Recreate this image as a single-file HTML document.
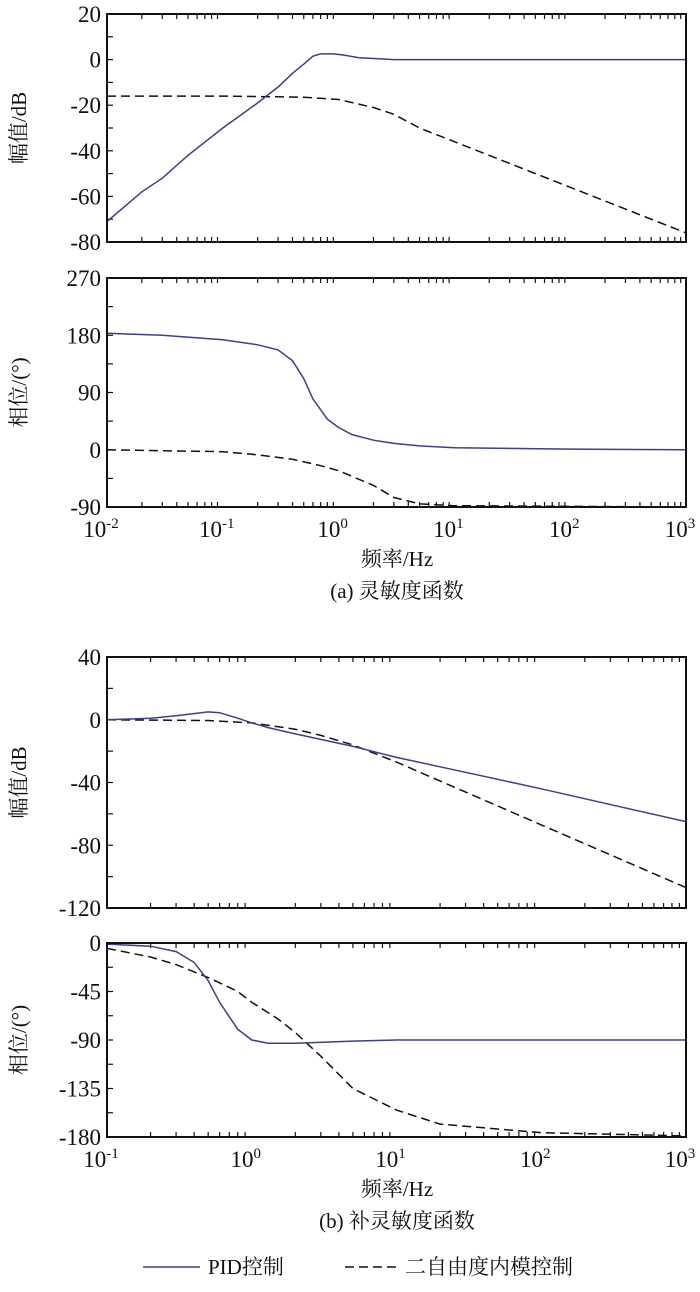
<!DOCTYPE html>
<html><head><meta charset="utf-8"><style>
body{margin:0;background:#fff}
svg text{font-family:"Liberation Serif","Noto Serif CJK SC",serif;fill:#111}
</style></head><body>
<svg id="s" width="700" height="1287" xmlns="http://www.w3.org/2000/svg"></svg>
<script>
// Panel (a) magnitude
const aFreq=[0.01,0.02,0.03,0.05,0.1,0.2,0.3,0.4,0.5,0.6,0.7,0.9,1.1,1.5,2,3,10,100,1000];
const aPidMag=[-71,-58,-52,-42,-30,-19,-12,-6,-2,1.5,2.5,2.5,2,0.8,0.5,0,0,0,0];
const aImcFreq=[0.01,0.1,0.5,1,2,3,5,10,100,1000];
const aImcMag=[-16,-16,-16.5,-17.5,-21,-24,-30,-36,-56,-76];
const aPhFreq=[0.01,0.03,0.1,0.2,0.3,0.4,0.5,0.6,0.8,1,1.3,2,3,5,10,100,1000];
const aPidPh=[183,180,173,165,157,140,112,80,48,35,24,15,10,6,3,1,0];
const aImcPhFreq=[0.01,0.1,0.2,0.4,0.7,1,2,3,5,10,1000];
const aImcPh=[0,-3,-8,-15,-25,-33,-56,-75,-85,-88,-90];
// Panel (b)
const bFreq=[0.1,0.2,0.3,0.5,0.6,0.8,1,1.3,2,5,10,20,100,1000];
const bPidMag=[0,1,2.5,5,4.5,1,-2,-5,-9,-17,-24,-30,-44,-65];
const bImcFreq=[0.1,0.5,1,2,3,5,10,100,1000];
const bImcMag=[0,-0.5,-2,-6,-10,-16,-27,-67,-107];
const bPhFreq=[0.1,0.2,0.3,0.4,0.5,0.6,0.8,1,1.3,2,5,10,1000];
const bPidPh=[-1,-3,-8,-18,-35,-55,-80,-90,-93,-93,-91,-90,-90];
const bImcPhFreq=[0.1,0.2,0.3,0.5,0.8,1,1.5,2,3,5,10,20,100,1000];
const bImcPh=[-5,-13,-20,-32,-45,-55,-70,-83,-105,-135,-155,-168,-176,-179];
const yTicksAMag=[20,0,-20,-40,-60,-80];
const yTicksAPh=[270,180,90,0,-90];
const yTicksBMag=[40,0,-40,-80,-120];
const yTicksBPh=[0,-45,-90,-135,-180];

const NS="http://www.w3.org/2000/svg",S=document.getElementById('s');
function el(t,a,p){const e=document.createElementNS(NS,t);for(const k in a)e.setAttribute(k,a[k]);(p||S).appendChild(e);return e;}
function panel(name,top,bot,d0,d1,ymax,ymin,ticks,xlabels,ytitle,series){
  const L=107,R=686;
  const g=el('g',{});
  
  
  const X=f=>L+(Math.log10(f)-d0)/(d1-d0)*(R-L);
  const Y=v=>top+(ymax-v)/(ymax-ymin)*(bot-top);
  for(let d=d0;d<d1;d++)for(let m=2;m<10;m++){const x=X(m*Math.pow(10,d));el('line',{x1:x,x2:x,y1:bot,y2:bot-5,stroke:'#111','stroke-width':1.2},g);el('line',{x1:x,x2:x,y1:top,y2:top+5,stroke:'#111','stroke-width':1.2},g);}
  for(let i=0;i<ticks.length;i++){const y=Y(ticks[i]);
    const t=el('text',{x:L-6,y:y+8,'text-anchor':'end','font-size':23},g);t.textContent=ticks[i];
    
    el('line',{x1:L,x2:L+6,y1:y,y2:y,stroke:'#111','stroke-width':1.2},g);
    if(i<ticks.length-1){const ym=(y+Y(ticks[i+1]))/2;el('line',{x1:L,x2:L+6,y1:ym,y2:ym,stroke:'#111','stroke-width':1.2},g);}
  }
  const yt=el('text',{x:0,y:0,'text-anchor':'middle','font-size':21,transform:`translate(26,${(top+bot)/2}) rotate(-90)`},g);
  yt.textContent=ytitle;
  const cp='c'+name;const c=el('clipPath',{id:cp},g);el('rect',{x:L,y:top,width:R-L,height:bot-top},c);
  for(const s of series){
    const p=el('path',{d:s.f.map((f,i)=>(i?'L':'M')+X(f).toFixed(1)+','+Y(s.v[i]).toFixed(1)).join(''),fill:'none',stroke:s.c,'stroke-width':1.5,'stroke-dasharray':s.dash||'none','clip-path':`url(#${cp})`},g);
    
  }
  const fr=el('rect',{x:L,y:top,width:R-L,height:bot-top,fill:'none',stroke:'#111','stroke-width':2},g);
  
  if(xlabels){for(let d=d0;d<=d1;d++){const t=el('text',{x:X(Math.pow(10,d))-6,y:bot+30,'text-anchor':'middle','font-size':23},g);
    t.innerHTML='10<tspan dy="-9" font-size="15">'+d+'</tspan>';}}
}
const B='#3a3f8f';
panel('panel-a-magnitude',14,242,-2,3,20,-80,yTicksAMag,false,'幅值/dB',[{f:aImcFreq,v:aImcMag,c:'#111',dash:'9,5',n:'imc-magnitude-line'},{f:aFreq,v:aPidMag,c:B,n:'pid-magnitude-line'}]);
panel('panel-a-phase',278,507,-2,3,270,-90,yTicksAPh,true,'相位/(°)',[{f:aImcPhFreq,v:aImcPh,c:'#111',dash:'9,5',n:'imc-phase-line'},{f:aPhFreq,v:aPidPh,c:B,n:'pid-phase-line'}]);
panel('panel-b-magnitude',657,908,-1,3,40,-120,yTicksBMag,false,'幅值/dB',[{f:bImcFreq,v:bImcMag,c:'#111',dash:'9,5',n:'imc-magnitude-line'},{f:bFreq,v:bPidMag,c:B,n:'pid-magnitude-line'}]);
panel('panel-b-phase',943,1137,-1,3,0,-180,yTicksBPh,true,'相位/(°)',[{f:bImcPhFreq,v:bImcPh,c:'#111',dash:'9,5',n:'imc-phase-line'},{f:bPhFreq,v:bPidPh,c:B,n:'pid-phase-line'}]);
function txt(x,y,s,name,sz){const t=el('text',{x:x,y:y,'text-anchor':'middle','font-size':sz||21});t.textContent=s;}
txt(397,566,'频率/Hz','x-axis-title-a');
txt(397,598,'(a) 灵敏度函数','caption-a');
txt(397,1196,'频率/Hz','x-axis-title-b');
txt(397,1228,'(b) 补灵敏度函数','caption-b');
const lg=el('g',{});
el('line',{x1:143,x2:200,y1:1267,y2:1267,stroke:B,'stroke-width':1.5},lg);
el('line',{x1:345,x2:398,y1:1267,y2:1267,stroke:'#111','stroke-width':1.5,'stroke-dasharray':'9,5'},lg);
const l1=el('text',{x:208,y:1274,'font-size':21},lg);l1.textContent='PID控制';
const l2=el('text',{x:405,y:1274,'font-size':21},lg);l2.textContent='二自由度内模控制';
</script>
</body></html>
